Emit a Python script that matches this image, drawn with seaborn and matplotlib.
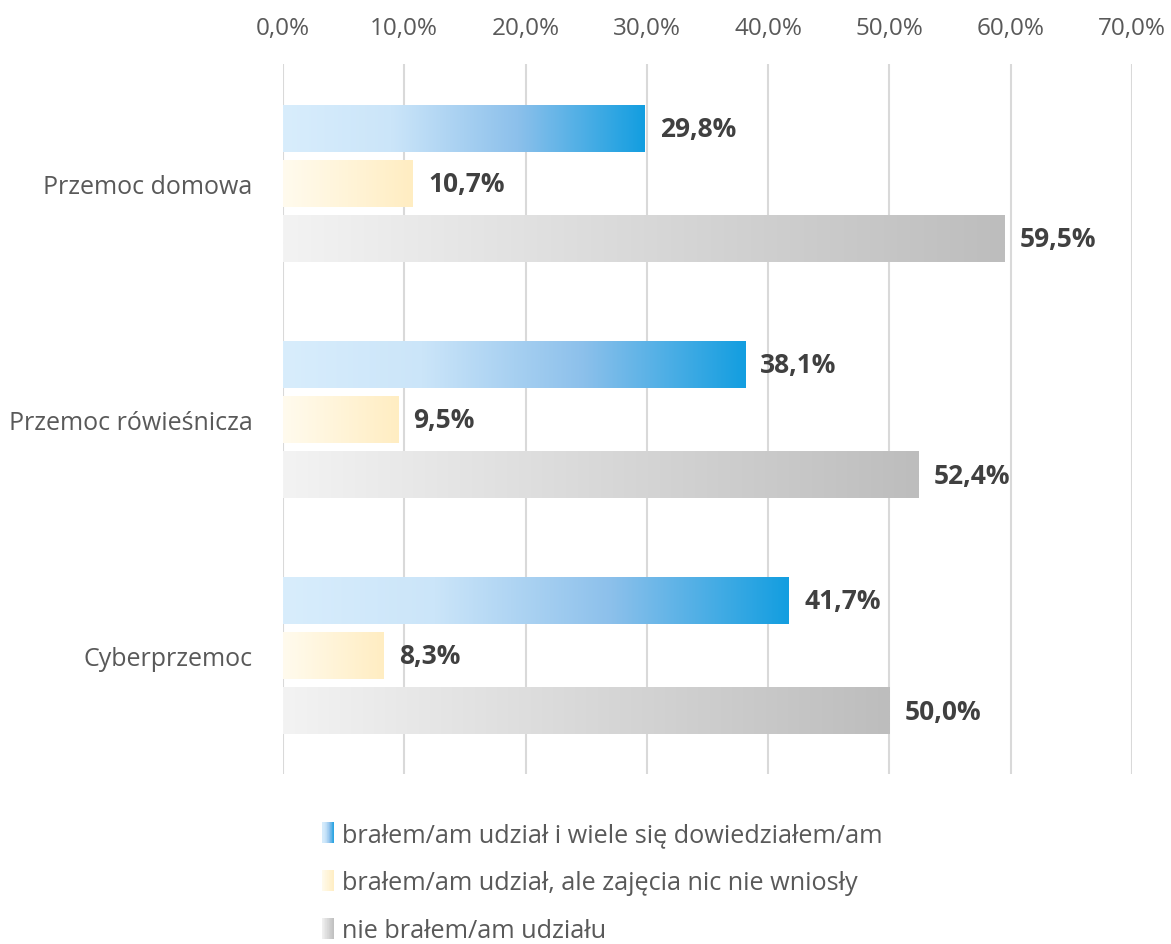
import numpy as np
import pandas as pd
import matplotlib
matplotlib.use("Agg")
import matplotlib.pyplot as plt
import seaborn as sns
from matplotlib.colors import LinearSegmentedColormap
from matplotlib.legend_handler import HandlerBase
from matplotlib.patches import Rectangle

categories = ["Przemoc domowa", "Przemoc rówieśnicza", "Cyberprzemoc"]
series = ["brałem/am udział i wiele się dowiedziałem/am",
          "brałem/am udział, ale zajęcia nic nie wniosły",
          "nie brałem/am udziału"]
val_learned = [29.8, 38.1, 41.7]
val_nothing = [10.7, 9.5, 8.3]
val_none = [59.5, 52.4, 50.0]
x_ticks = [0, 10, 20, 30, 40, 50, 60, 70]

df = pd.DataFrame({
    "category": categories * 3,
    "series": [series[0]] * 3 + [series[1]] * 3 + [series[2]] * 3,
    "value": val_learned + val_nothing + val_none,
})

cmaps = [
    LinearSegmentedColormap.from_list("blue", [(0.0, "#d8edfc"), (0.3, "#cbe5f9"), (0.65, "#8cc0eb"), (1.0, "#139ee0")]),
    LinearSegmentedColormap.from_list("yellow", [(0.0, "#fffbee"), (1.0, "#ffedc2")]),
    LinearSegmentedColormap.from_list("grey", [(0.0, "#f3f3f3"), (1.0, "#bdbdbd")]),
]
mid_colors = ["#5aaee6", "#ffefc8", "#cfcfcf"]

sns.set_theme(style="white")
plt.rcParams["font.family"] = ["Open Sans", "DejaVu Sans"]

fig = plt.figure(figsize=(11.71, 9.45), dpi=100)
ax = fig.add_axes([283 / 1171, 1 - 775 / 945, (1132 - 283) / 1171, (775 - 65) / 945])

sns.barplot(data=df, y="category", x="value", hue="series", hue_order=series,
            order=categories, orient="h", width=0.7, gap=0.16,
            palette=mid_colors, legend=False, ax=ax)

grad = np.linspace(0, 1, 256).reshape(1, -1)
for ci, cont in enumerate(ax.containers):
    for p in cont.patches:
        x0, y0 = p.get_x(), p.get_y()
        w, h = p.get_width(), p.get_height()
        ax.imshow(grad, cmap=cmaps[ci], extent=[x0, x0 + w, y0 + h, y0],
                  aspect="auto", zorder=2, interpolation="bilinear")
        p.set_visible(False)
    vals = [p.get_width() for p in cont.patches]
    ax.bar_label(cont, labels=[f"{v:.1f}%".replace(".", ",") for v in vals],
                 padding=11, fontsize=19, fontweight="bold", color="#404040")

ax.set_xlim(0, 70)
ax.set_ylim(2.5, -0.508)
ax.set_xticks(x_ticks)
ax.set_xticklabels([f"{t:.1f}%".replace(".", ",") for t in x_ticks])
ax.xaxis.tick_top()
ax.tick_params(axis="x", length=0, pad=17, labelsize=17.5, labelcolor="#595959")
ax.tick_params(axis="y", length=0, pad=22, labelsize=18, labelcolor="#595959")
ax.set_xlabel("")
ax.set_ylabel("")
ax.grid(axis="x", color="#d9d9d9", linewidth=1.5, zorder=0)
ax.set_axisbelow(True)
for s in ax.spines.values():
    s.set_visible(False)


class HandlerGradient(HandlerBase):
    def __init__(self, cmap):
        super().__init__()
        self.cmap = cmap

    def create_artists(self, legend, orig_handle, xdescent, ydescent, width,
                       height, fontsize, trans):
        n = 20
        arts = []
        for i in range(n):
            r = Rectangle((-xdescent + width * i / n, -ydescent), width / n + 0.05, height,
                          facecolor=self.cmap((i + 0.5) / n), edgecolor="none",
                          transform=trans)
            arts.append(r)
        return arts


handles = [Rectangle((0, 0), 1, 1) for _ in series]
leg = fig.legend(handles, series, loc="upper left",
                 bbox_to_anchor=(309 / 1171, 1 - 810 / 945),
                 frameon=False, fontsize=18.2, labelcolor="#595959",
                 handlelength=0.5, handleheight=0.9, handletextpad=0.3,
                 labelspacing=0.9, borderpad=0,
                 handler_map={h: HandlerGradient(c) for h, c in zip(handles, cmaps)})

fig.savefig("out.png", dpi=100)
